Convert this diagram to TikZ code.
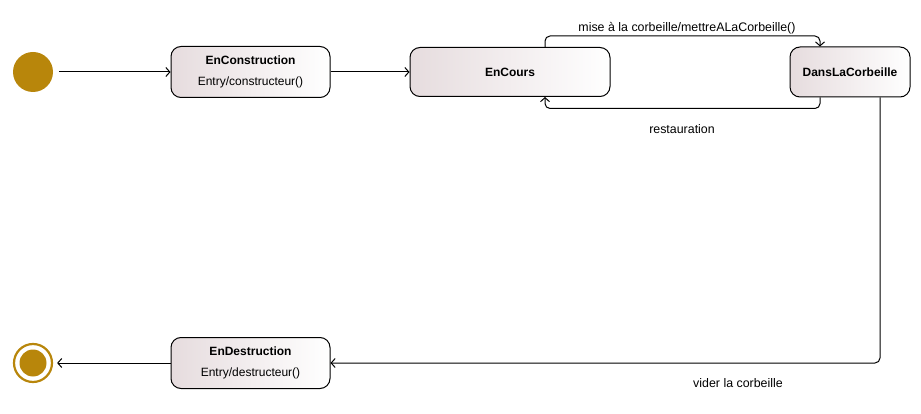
\documentclass[tikz,border=0pt]{standalone}
\usepackage{fontspec}
\setmainfont{Liberation Sans}
\usetikzlibrary{arrows.meta,positioning,calc}
\definecolor{gold}{HTML}{B8860B}
\definecolor{rose}{HTML}{E6DCDE}

\begin{document}
\begin{tikzpicture}[x=1pt,y=-1pt,>={Straight Barb[length=4pt,width=9pt]},
  etat/.style={draw,line width=1pt,rounded corners=10pt,left color=rose,right color=white,align=center,inner sep=0pt,font=\fontsize{12}{14}\selectfont},
  lien/.style={->,line width=1pt,rounded corners=5pt},
  lbl/.style={font=\fontsize{12.4}{15}\selectfont}]
\useasboundingbox (0,0) rectangle (921,414);
% etats
\node[circle,fill=gold,minimum size=40pt,inner sep=0pt] (debut) at (33,72) {};
\node[etat,minimum width=159pt,minimum height=51pt] (constr) at (250.5,72)
  {\textbf{EnConstruction}\\[7pt]Entry/constructeur()};
\node[etat,minimum width=200pt,minimum height=49pt] (cours) at (510,72)
  {\textbf{EnCours}};
\node[etat,minimum width=120pt,minimum height=50pt] (corb) at (850,72)
  {\textbf{DansLaCorbeille}};
\node[etat,minimum width=159pt,minimum height=51pt] (destr) at (250.5,363)
  {\textbf{EnDestruction}\\[7pt]Entry/destructeur()};
\node[circle,draw=gold,line width=2.2pt,minimum size=38pt,inner sep=0pt] (fin) at (33,363) {};
\node[circle,fill=gold,minimum size=27pt,inner sep=0pt] (fincoeur) at (fin) {};
% transitions
\draw[lien,shorten <=6pt] (debut) -- (constr);
\draw[lien] (constr) -- (cours);
\draw[lien] ([xshift=35pt]cours.north) -- ++(0,-11) -| ([xshift=-30pt]corb.north);
\draw[lien] ([xshift=-30pt]corb.south) -- ++(0,11) -| ([xshift=35pt]cours.south);
\draw[lien] ([xshift=30pt]corb.south) |- (destr.east);
\draw[lien,shorten >=4pt] (destr) -- (fin);
% libelles
\node[lbl] (mise) at (687,28) {mise à la corbeille/mettreALaCorbeille()};
\node[lbl] (resto) at (682,129) {restauration};
\node[lbl] (vider) at (738,383) {vider la corbeille};
\end{tikzpicture}
\end{document}
